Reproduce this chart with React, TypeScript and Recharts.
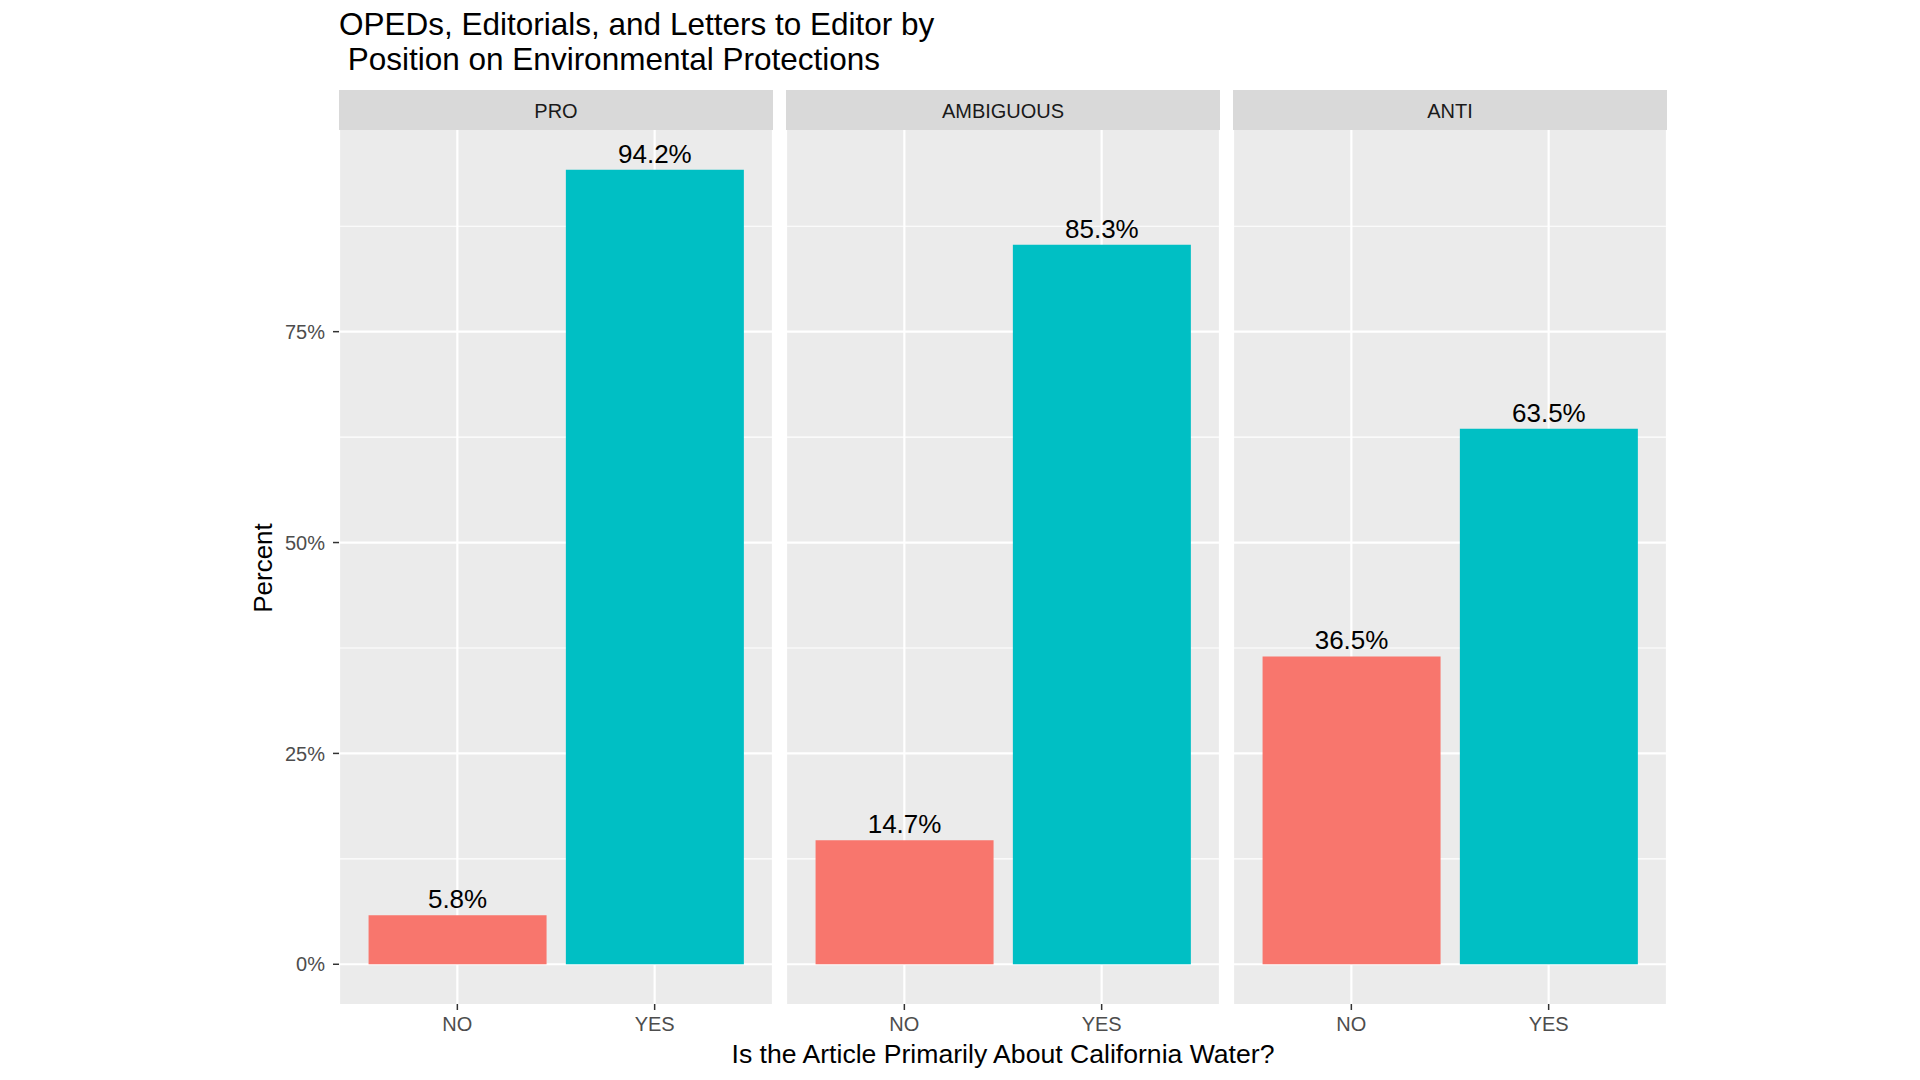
import React from 'react';
import { BarChart, Bar, XAxis, YAxis, CartesianGrid, LabelList, Cell } from 'recharts';

const panelNames = ['PRO', 'AMBIGUOUS', 'ANTI'];
const answers = ['NO', 'YES'];
const noValues = [5.8, 14.7, 36.5];
const yesValues = [94.2, 85.3, 63.5];
const yTicks = [0, 25, 50, 75];
const yMinorTicks = [12.5, 37.5, 62.5, 87.5];
const barColors = ['#F8766D', '#00BFC4'];

const titleLines = ['OPEDs, Editorials, and Letters to Editor by', ' Position on Environmental Protections'];
const xTitle = 'Is the Article Primarily About California Water?';
const yTitle = 'Percent';

const FONT = '"Liberation Sans", Arial, Helvetica, sans-serif';

const allValues = [...noValues, ...yesValues];
const yMax = Math.max(...allValues);
const yExpand = yMax * 0.05;
const yDomain: [number, number] = [-yExpand, yMax + yExpand];

const PANEL_LEFTS = [339, 786, 1233];
const PANEL_W = 434;
const PANEL_TOP = 130;
const PLOT_H = 874;
const XAXIS_H = 60;
const YAXIS_W = 80;
const CAT_PAD = 19.7;

const renderValueLabel = (props: any) => {
  const { x, y, width, value } = props;
  return (
    <text
      x={Number(x) + Number(width) / 2}
      y={Number(y) - 7}
      textAnchor="middle"
      fontSize={26}
      fontFamily={FONT}
      fill="#000000"
    >
      {Number(value).toFixed(1) + '%'}
    </text>
  );
};

function Panel({ index }: { index: number }) {
  const data = answers.map((a, i) => ({
    answer: a,
    value: i === 0 ? noValues[index] : yesValues[index],
  }));
  const first = index === 0;
  const left = first ? PANEL_LEFTS[index] - YAXIS_W : PANEL_LEFTS[index];
  const width = first ? PANEL_W + YAXIS_W : PANEL_W;
  return (
    <div style={{ position: 'absolute', left, top: PANEL_TOP }}>
      <BarChart
        width={width}
        height={PLOT_H + XAXIS_H}
        data={data}
        margin={{ top: 0, right: 0, bottom: 0, left: 0 }}
        barCategoryGap="5%"
      >
        <CartesianGrid
          fill="#EBEBEB"
          stroke="#FFFFFF"
          strokeWidth={1.1}
          horizontal
          vertical={false}
          horizontalValues={yMinorTicks}
        />
        <CartesianGrid
          stroke="#FFFFFF"
          strokeWidth={2.2}
          horizontal
          vertical
          horizontalValues={yTicks}
        />
        <XAxis
          dataKey="answer"
          type="category"
          height={XAXIS_H}
          padding={{ left: CAT_PAD, right: CAT_PAD }}
          axisLine={false}
          tickSize={6}
          tickMargin={7}
          tickLine={{ stroke: '#333333', strokeWidth: 1.5 }}
          tick={{ fill: '#4D4D4D', fontSize: 20, fontFamily: FONT }}
          interval={0}
        />
        <YAxis
          type="number"
          domain={yDomain}
          allowDataOverflow
          ticks={yTicks}
          hide={!first}
          width={first ? YAXIS_W : 0}
          axisLine={false}
          tickSize={6}
          tickMargin={8}
          tickLine={{ stroke: '#333333', strokeWidth: 1.5 }}
          tick={{ fill: '#4D4D4D', fontSize: 20, fontFamily: FONT }}
          tickFormatter={(v: number) => v + '%'}
        />
        <Bar dataKey="value" isAnimationActive={false}>
          {data.map((d, i) => (
            <Cell key={d.answer} fill={barColors[i]} />
          ))}
          <LabelList dataKey="value" content={renderValueLabel} />
        </Bar>
      </BarChart>
    </div>
  );
}

export default function App() {
  return (
    <div
      style={{
        position: 'absolute',
        left: 0,
        top: 0,
        width: 1920,
        height: 1080,
        background: '#FFFFFF',
        fontFamily: FONT,
        overflow: 'hidden',
      }}
    >
      <div
        style={{
          position: 'absolute',
          left: 339,
          top: 7,
          fontSize: 31.5,
          lineHeight: '35px',
          color: '#000000',
          whiteSpace: 'pre',
        }}
      >
        {titleLines.map((l) => (
          <div key={l}>{l}</div>
        ))}
      </div>
      {panelNames.map((name, i) => (
        <div
          key={name}
          style={{
            position: 'absolute',
            left: PANEL_LEFTS[i],
            top: 90,
            width: PANEL_W,
            height: 40,
            background: '#D9D9D9',
            color: '#1A1A1A',
            fontSize: 20,
            lineHeight: '42px',
            textAlign: 'center',
          }}
        >
          {name}
        </div>
      ))}
      {panelNames.map((name, i) => (
        <Panel key={name} index={i} />
      ))}
      <div
        style={{
          position: 'absolute',
          left: 263,
          top: 568,
          fontSize: 26,
          lineHeight: '26px',
          color: '#000000',
          whiteSpace: 'nowrap',
          transform: 'translate(-50%, -50%) rotate(-90deg)',
        }}
      >
        {yTitle}
      </div>
      <div
        style={{
          position: 'absolute',
          left: 339,
          top: 1039,
          width: 1328,
          fontSize: 26.6,
          lineHeight: '30px',
          color: '#000000',
          textAlign: 'center',
          whiteSpace: 'nowrap',
        }}
      >
        {xTitle}
      </div>
    </div>
  );
}
